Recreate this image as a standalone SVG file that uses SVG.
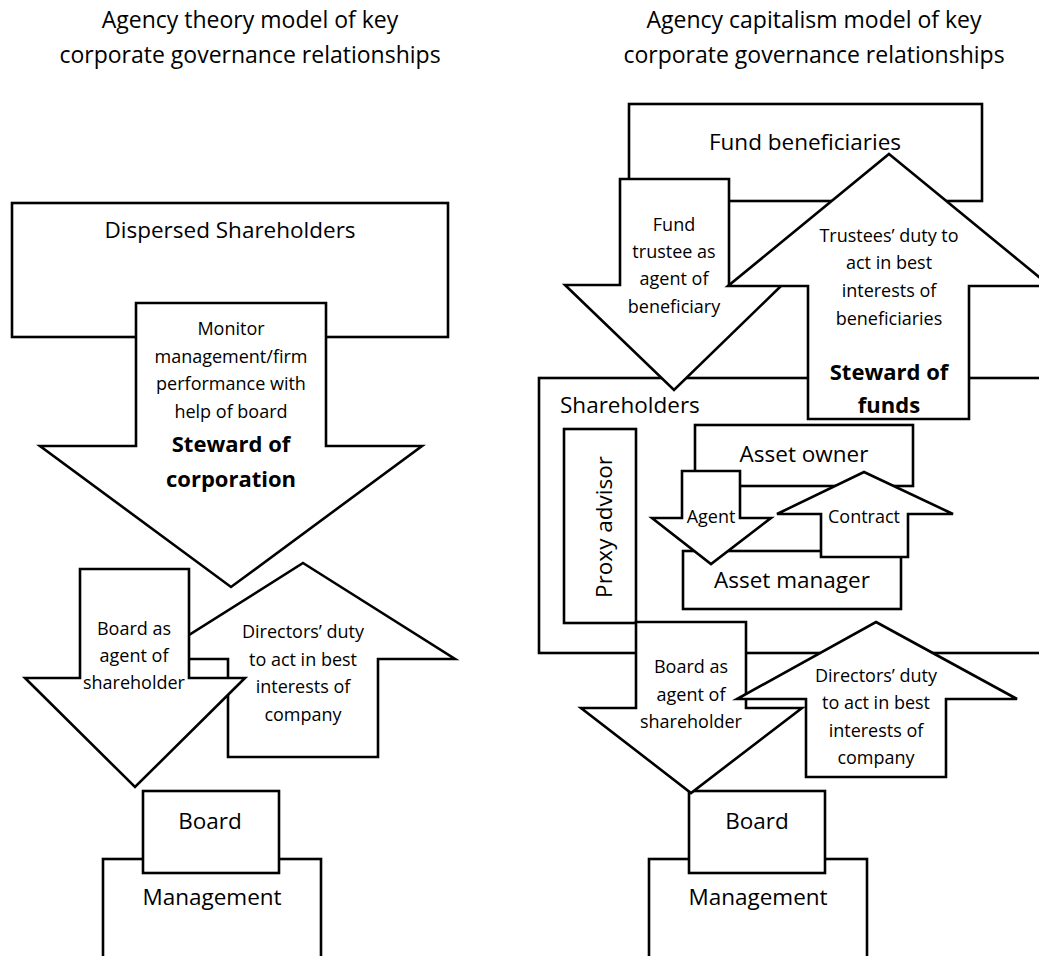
<svg xmlns="http://www.w3.org/2000/svg" width="1039" height="956" viewBox="0 0 1039 956">
<style>
.box{fill:#fff;stroke:#000;stroke-width:2.6}
text{font-family:"Open Sans","Noto Sans","Liberation Sans",sans-serif;fill:#000;text-anchor:middle}
.t{font-size:23px}
.b{font-size:22.5px}
.s{font-size:18px}
.k{font-size:22px;font-weight:bold}
</style>
<rect width="1039" height="956" fill="#fff"/>
<g id="title-left"><text class="t" x="250" y="28">Agency theory model of key</text><text class="t" x="250" y="63">corporate governance relationships</text></g>
<g id="title-right"><text class="t" x="814" y="28">Agency capitalism model of key</text><text class="t" x="814" y="63">corporate governance relationships</text></g>

<g id="dispersed-shareholders"><rect class="box" x="12" y="203" width="436" height="134"/><text class="b" x="230" y="238">Dispersed Shareholders</text></g>
<g id="management-left"><rect class="box" x="103" y="859" width="218" height="110"/><text class="b" x="212" y="905">Management</text></g>
<g id="board-left"><rect class="box" x="143" y="791" width="136" height="82"/><text class="b" x="210" y="829">Board</text></g>

<g id="fund-beneficiaries"><rect class="box" x="629" y="104" width="353" height="97"/><text class="b" x="805" y="150">Fund beneficiaries</text></g>
<g id="shareholders"><rect class="box" x="539" y="378" width="510" height="275"/><text class="b" x="560" y="413" style="text-anchor:start">Shareholders</text></g>
<g id="proxy-advisor"><rect class="box" x="564" y="429" width="72" height="194"/><text class="b" transform="translate(612,527) rotate(-90)">Proxy advisor</text></g>
<g id="asset-owner"><rect class="box" x="695" y="425" width="218" height="61"/><text class="b" x="804" y="462">Asset owner</text></g>
<g id="asset-manager"><rect class="box" x="683" y="551" width="218" height="58"/><text class="b" x="792" y="588">Asset manager</text></g>
<g id="management-right"><rect class="box" x="649" y="859" width="218" height="110"/><text class="b" x="758" y="905">Management</text></g>
<g id="board-right"><rect class="box" x="689" y="791" width="136" height="82"/><text class="b" x="757" y="829">Board</text></g>

<g id="connectors">
<g id="steward-of-corporation">
<polygon class="box" points="136,303 326,303 326,446 422,446 231,587 40,446 136,446"/>
<text class="s" x="231" y="335">Monitor</text><text class="s" x="231" y="363">management/firm</text><text class="s" x="231" y="390">performance with</text><text class="s" x="231" y="418">help of board</text>
<text class="k" x="231" y="452">Steward of</text><text class="k" x="231" y="487">corporation</text>
</g>
<g id="directors-duty-left">
<polygon class="box" points="303,563 455,659 378,659 378,757 228,757 228,659 151,659"/>
<text class="s" x="303" y="638">Directors’ duty</text><text class="s" x="303" y="666">to act in best</text><text class="s" x="303" y="693">interests of</text><text class="s" x="303" y="721">company</text>
</g>
<g id="board-agent-left">
<polygon class="box" points="80,569 189,569 189,678 245,678 135,787 25,678 80,678"/>
<text class="s" x="134" y="635">Board as</text><text class="s" x="134" y="662">agent of</text><text class="s" x="134" y="689">shareholder</text>
</g>
<g id="fund-trustee-agent">
<polygon class="box" points="620,179 729,179 729,285 782,285 674,390 565,285 620,285"/>
<text class="s" x="674" y="231">Fund</text><text class="s" x="674" y="258">trustee as</text><text class="s" x="674" y="285">agent of</text><text class="s" x="674" y="313">beneficiary</text>
</g>
<g id="steward-of-funds">
<polygon class="box" points="889,154 1050,286 969,286 969,419 808,419 808,286 728,286"/>
<text class="s" x="889" y="242">Trustees’ duty to</text><text class="s" x="889" y="269">act in best</text><text class="s" x="889" y="297">interests of</text><text class="s" x="889" y="325">beneficiaries</text>
<text class="k" x="889" y="380">Steward of</text><text class="k" x="889" y="413">funds</text>
</g>
<g id="agent">
<polygon class="box" points="682,471 740,471 740,518 771,518 711,564 652,518 682,518"/>
<text class="s" x="711" y="523">Agent</text>
</g>
<g id="contract">
<polygon class="box" points="864,472 953,514 908,514 908,557 821,557 821,514 777,514"/>
<text class="s" x="864" y="523">Contract</text>
</g>
<g id="board-agent-right">
<polygon class="box" points="636,622 746,622 746,708 802,708 691,793 581,708 636,708"/>
<text class="s" x="691" y="673">Board as</text><text class="s" x="691" y="701">agent of</text><text class="s" x="691" y="728">shareholder</text>
</g>
<g id="directors-duty-right">
<polygon class="box" points="876,622 1017,699 946,699 946,777 806,777 806,699 737,699"/>
<text class="s" x="876" y="682">Directors’ duty</text><text class="s" x="876" y="709">to act in best</text><text class="s" x="876" y="737">interests of</text><text class="s" x="876" y="764">company</text>
</g>
</g>
</svg>
